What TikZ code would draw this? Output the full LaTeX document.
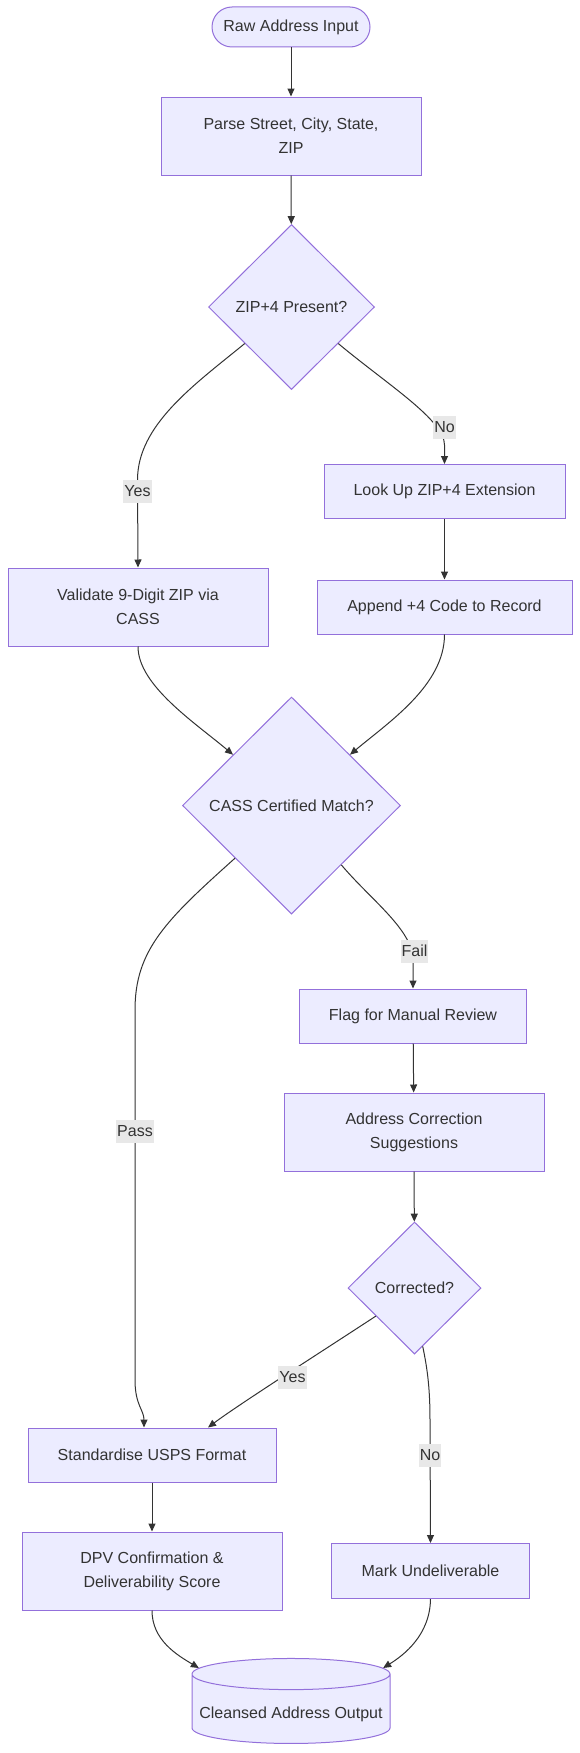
\documentclass[tikz,border=0pt]{standalone}
\usepackage{fontspec}
\setmainfont{Liberation Sans}
\usepackage{tikz}
\usetikzlibrary{shapes.geometric, arrows.meta, positioning, calc}
\definecolor{boxfill}{HTML}{ECECFF}
\definecolor{boxline}{HTML}{9370DB}
\definecolor{ink}{HTML}{333333}
\definecolor{lblfill}{HTML}{E8E8E8}

\begin{document}
\begin{tikzpicture}[x=1pt, y=-1pt,
  every node/.style={font=\fontsize{16pt}{24pt}\selectfont, text=ink},
  box/.style={draw=boxline, fill=boxfill, line width=1pt, align=center, inner sep=0pt},
  term/.style={box, rounded corners=20pt, minimum width=158pt, minimum height=40pt},
  dec/.style={box, diamond},
  store/.style={box, cylinder, shape border rotate=90, aspect=0.17},
  flow/.style={draw=ink, line width=1pt, -{Triangle[length=8pt, width=7pt]}},
  lbl/.style={fill=lblfill, inner xsep=1pt, inner ysep=0pt, minimum height=23pt}
]
\useasboundingbox (0,0) rectangle (580,1753);

% Input and parsing
\node[term] (raw) at (291,27) {Raw Address Input};
\node[box, minimum width=260pt, minimum height=78pt] (parse) at (291,136) {Parse Street, City, State,\\ZIP};
\node[dec, minimum width=166pt, minimum height=165pt] (zip) at (291.5,307) {ZIP+4 Present?};

% ZIP+4 branches
\node[box, minimum width=241pt, minimum height=54pt] (look) at (444.5,491.5) {Look Up ZIP+4 Extension};
\node[box, minimum width=260pt, minimum height=78pt] (val) at (138,607) {Validate 9-Digit ZIP via\\CASS};
\node[box, minimum width=255pt, minimum height=54pt] (app) at (444.5,607) {Append +4 Code to Record};
\node[dec, minimum width=218pt, minimum height=217pt] (cass) at (291.5,805.5) {CASS Certified Match?};

% Manual review
\node[box, minimum width=227pt, minimum height=54pt] (flag) at (413,1016) {Flag for Manual Review};
\node[box, minimum width=260pt, minimum height=78pt] (sugg) at (414,1132) {Address Correction\\Suggestions};
\node[dec, minimum width=133pt, minimum height=132pt] (fixed) at (414.5,1288) {Corrected?};

% Output
\node[box, minimum width=248pt, minimum height=54pt] (std) at (152,1455) {Standardise USPS Format};
\node[box, minimum width=260pt, minimum height=78pt] (dpv) at (152,1571) {DPV Confirmation \&\\Deliverability Score};
\node[box, minimum width=198pt, minimum height=55pt] (undel) at (430.5,1571) {Mark Undeliverable};
\node[store, minimum width=198pt, minimum height=85pt] (out) at (291,1709)
  {\raisebox{-9pt}[0pt][0pt]{Cleansed Address Output}};

% Connectors
\draw[flow] (raw) -- (parse);
\draw[flow] (parse) -- (zip);
\draw[flow] (zip.218) .. controls (194,385) and (137.5,425) .. (137.5,480) -- (val.north);
\draw[flow] (zip.322) .. controls (388,385) and (444.5,420) .. (444.5,445) -- (look.north);
\draw[flow] (look) -- (app);
\draw[flow] (val.south) .. controls (138,685) and (194,722) .. (cass.139);
\draw[flow] (app.south) .. controls (444.5,685) and (389,722) .. (cass.41);
\draw[flow] (cass.310) .. controls (371,900) and (413,930) .. (413,960) -- (flag.north);
\draw[flow] (cass.223) .. controls (166,920) and (135,950) .. (135,1010) -- (135,1380)
  .. controls (135,1405) and (144,1410) .. ([xshift=-8pt]std.north);
\draw[flow] (flag) -- (sugg);
\draw[flow] (sugg) -- (fixed);
\draw[flow] (fixed.216) .. controls (321,1352) and (238,1405) .. ([xshift=56pt]std.north);
\draw[flow] (fixed.278) .. controls (427.7,1370) and (430,1390) .. (430,1420) -- (undel.north);
\draw[flow] (std) -- (dpv);
\draw[flow] (dpv.south) .. controls (152,1640) and (177,1655) .. (out.156);
\draw[flow] (undel.south) .. controls (430,1635) and (404,1655) .. (out.24);

% Edge labels
\node[lbl] (yes1) at (137.5,491.5) {Yes};
\node[lbl] (no1) at (444.5,427) {No};
\node[lbl] (fail) at (414.5,951) {Fail};
\node[lbl] (pass) at (135,1131.5) {Pass};
\node[lbl] (yes2) at (292.5,1377) {Yes};
\node[lbl] (no2) at (430,1455) {No};
\end{tikzpicture}
\end{document}
